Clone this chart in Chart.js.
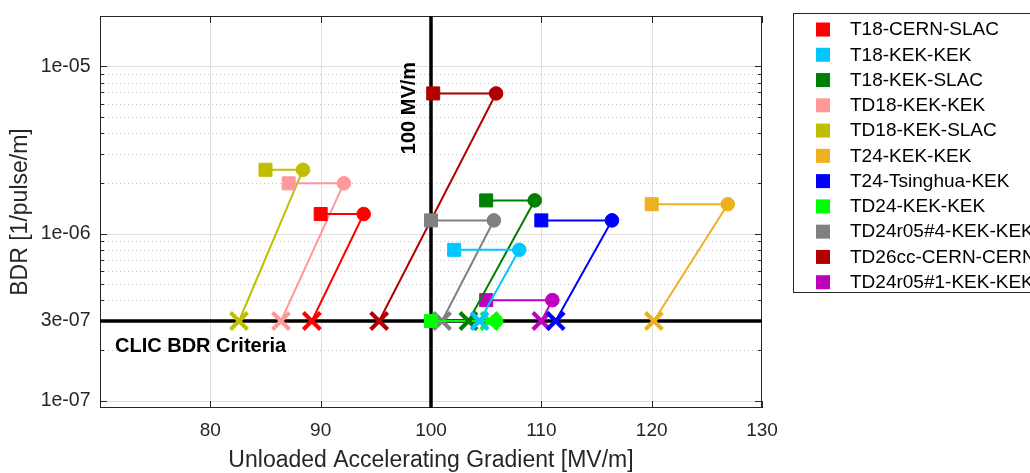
<!DOCTYPE html>
<html>
<head>
<meta charset="utf-8">
<script src="https://cdn.jsdelivr.net/npm/chart.js@4/dist/chart.umd.min.js"></script>
<style>
  html, body { margin: 0; padding: 0; background: #ffffff; }
  canvas { display: block; }
</style>
</head>
<body>
<canvas id="bdr" width="1030" height="473"></canvas>
<script>
// Accelerating structures tested
const structures = [
  'T18-CERN-SLAC', 'T18-KEK-KEK', 'T18-KEK-SLAC', 'TD18-KEK-KEK', 'TD18-KEK-SLAC',
  'T24-KEK-KEK', 'T24-Tsinghua-KEK', 'TD24-KEK-KEK', 'TD24r05#4-KEK-KEK',
  'TD26cc-CERN-CERN', 'TD24r05#1-KEK-KEK'
];
const seriesColors = [
  '#ff0000', '#00c8ff', '#008000', '#ff9999', '#bfbf00',
  '#edb120', '#0000ff', '#00ff00', '#808080', '#b00000', '#bf00bf'
];
// Measured gradient (square), gradient at the end of conditioning (circle), same BDR
const startGradient = [90.0, 102.1, 105.0, 87.1, 85.0, 120.0, 110.0, 100.0, 100.0, 100.2, 105.0];
const peakGradient  = [93.9, 108.0, 109.4, 92.1, 88.4, 126.9, 116.4, 105.9, 105.7, 105.9, 111.0];
const measuredBDR   = [1.31e-6, 8.0e-7, 1.58e-6, 2.0e-6, 2.41e-6, 1.5e-6, 1.2e-6, 3.0e-7, 1.2e-6, 6.9e-6, 4.0e-7];
// Gradient scaled to the CLIC breakdown rate target (cross)
const scaledGradient = [89.2, 104.4, 103.4, 86.4, 82.6, 120.2, 111.3, 105.3, 101.0, 95.3, 110.0];

const targetBDR = 3e-7;
const referenceGradient = 100;

const xTickValues = [80, 90, 100, 110, 120, 130];
const yTickValues = [1e-7, 3e-7, 1e-6, 1e-5];
const yTickLabels = ['1e-07', '3e-07', '1e-06', '1e-05'];

const FONT = '"Liberation Sans", Arial, Helvetica, sans-serif';
const AXIS_COLOR = '#262626';

Chart.defaults.font.family = FONT;
Chart.defaults.color = AXIS_COLOR;

const datasets = structures.map((name, i) => ({
  label: name,
  data: [
    { x: startGradient[i], y: measuredBDR[i] },
    { x: peakGradient[i], y: measuredBDR[i] },
    { x: scaledGradient[i], y: targetBDR }
  ],
  showLine: true,
  tension: 0,
  borderColor: seriesColors[i],
  backgroundColor: seriesColors[i],
  borderWidth: 2,
  pointStyle: ['rect', 'circle', 'crossRot'],
  pointRadius: [9.2, 6.8, 12],
  pointBorderWidth: [1, 1, 4],
  pointBackgroundColor: seriesColors[i],
  pointBorderColor: seriesColors[i]
}));

// Log-scale grid values (1..9 per decade)
function logGridValues(min, max) {
  const out = [];
  for (let d = Math.floor(Math.log10(min)); d <= Math.ceil(Math.log10(max)); d++) {
    for (let m = 1; m <= 9; m++) {
      const v = m * Math.pow(10, d);
      if (v >= min && v <= max) out.push({ v, major: m === 1 });
    }
  }
  return out;
}

const framePlugin = {
  id: 'frame',
  beforeDatasetsDraw(chart) {
    const { ctx, chartArea: a, scales: { x, y } } = chart;
    const gridY = logGridValues(y.min, y.max);
    ctx.save();
    ctx.lineWidth = 1;

    // vertical grid
    ctx.strokeStyle = '#dfdfdf';
    xTickValues.forEach(v => {
      if (v <= x.min || v >= x.max) return;
      const px = Math.round(x.getPixelForValue(v)) + 0.5;
      ctx.beginPath(); ctx.moveTo(px, a.top); ctx.lineTo(px, a.bottom); ctx.stroke();
    });

    // horizontal grid: solid at decades, dotted in between
    gridY.forEach(g => {
      const py = Math.round(y.getPixelForValue(g.v)) + 0.5;
      if (py <= a.top + 1 || py >= a.bottom - 1) return;
      ctx.beginPath();
      if (g.major) { ctx.setLineDash([]); ctx.strokeStyle = '#dfdfdf'; }
      else { ctx.setLineDash([1, 3]); ctx.strokeStyle = '#c4c4c4'; }
      ctx.moveTo(a.left, py); ctx.lineTo(a.right, py); ctx.stroke();
    });
    ctx.setLineDash([]);

    // axes box
    ctx.strokeStyle = AXIS_COLOR;
    ctx.strokeRect(a.left + 0.5, a.top + 0.5, a.right - a.left - 1, a.bottom - a.top - 1);

    // inward tick marks
    ctx.beginPath();
    xTickValues.forEach(v => {
      const px = Math.round(x.getPixelForValue(v)) + 0.5;
      ctx.moveTo(px, a.bottom); ctx.lineTo(px, a.bottom - 7);
      ctx.moveTo(px, a.top); ctx.lineTo(px, a.top + 7);
    });
    gridY.forEach(g => {
      const py = Math.round(y.getPixelForValue(g.v)) + 0.5;
      const len = g.major ? 7 : 4;
      ctx.moveTo(a.left, py); ctx.lineTo(a.left + len, py);
      ctx.moveTo(a.right, py); ctx.lineTo(a.right - len, py);
    });
    ctx.stroke();

    // CLIC target breakdown rate and 100 MV/m reference
    ctx.strokeStyle = '#000000';
    ctx.lineWidth = 3.5;
    const yt = y.getPixelForValue(targetBDR);
    const xr = x.getPixelForValue(referenceGradient);
    ctx.beginPath();
    ctx.moveTo(a.left, yt); ctx.lineTo(a.right, yt);
    ctx.moveTo(xr, a.top); ctx.lineTo(xr, a.bottom);
    ctx.stroke();
    ctx.restore();
  },
  afterDatasetsDraw(chart) {
    const { ctx, chartArea: a, scales: { x, y } } = chart;
    ctx.save();
    ctx.fillStyle = '#000000';
    ctx.font = 'bold 20px ' + FONT;
    ctx.textAlign = 'left';
    ctx.textBaseline = 'alphabetic';
    ctx.fillText('CLIC BDR Criteria', a.left + 15, y.getPixelForValue(targetBDR) + 31);

    ctx.translate(x.getPixelForValue(referenceGradient) - 16, a.top + 92);
    ctx.rotate(-Math.PI / 2);
    ctx.textAlign = 'center';
    ctx.fillText('100 MV/m', 0, 0);
    ctx.restore();
  },
  afterDraw(chart) {
    // legend box
    const { ctx, chartArea: a } = chart;
    const left = a.right + 31.5, top = 13.5, height = 279;
    ctx.save();
    ctx.fillStyle = '#ffffff';
    ctx.strokeStyle = AXIS_COLOR;
    ctx.lineWidth = 1;
    ctx.fillRect(left, top, 400, height);
    ctx.strokeRect(left, top, 400, height);
    ctx.font = '19px ' + FONT;
    ctx.textAlign = 'left';
    ctx.textBaseline = 'middle';
    chart.data.datasets.forEach((ds, i) => {
      const rowY = 29.5 + i * 25.27;
      ctx.fillStyle = ds.borderColor;
      ctx.fillRect(left + 22.5, rowY - 7, 14, 14);
      ctx.fillStyle = '#000000';
      ctx.fillText(ds.label, left + 56.5, rowY + 0.5);
    });
    ctx.restore();
  }
};

new Chart(document.getElementById('bdr'), {
  type: 'scatter',
  data: { datasets },
  options: {
    responsive: false,
    animation: false,
    devicePixelRatio: 1,
    events: [],
    layout: { padding: { top: 12, right: 268, left: 0, bottom: 0 } },
    plugins: { legend: { display: false }, tooltip: { enabled: false } },
    scales: {
      x: {
        type: 'linear',
        min: 70,
        max: 130,
        afterBuildTicks: s => { s.ticks = xTickValues.map(v => ({ value: v })); },
        afterFit: s => { s.height = 65; s.paddingLeft = 0; s.paddingRight = 0; },
        grid: { display: false, drawTicks: false },
        border: { display: false },
        ticks: { color: AXIS_COLOR, font: { size: 19 }, padding: 11.5, maxRotation: 0, autoSkip: false },
        title: {
          display: true,
          text: 'Unloaded Accelerating Gradient [MV/m]',
          color: AXIS_COLOR,
          font: { size: 23, lineHeight: 1.1 },
          padding: 0
        }
      },
      y: {
        type: 'logarithmic',
        min: 9.05e-8,
        max: 2.005e-5,
        afterBuildTicks: s => { s.ticks = yTickValues.map(v => ({ value: v })); },
        afterFit: s => { s.width = 100; s.paddingTop = 0; s.paddingBottom = 0; },
        grid: { display: false, drawTicks: false },
        border: { display: false },
        ticks: {
          color: AXIS_COLOR,
          font: { size: 19.5 },
          padding: 9.5,
          autoSkip: false,
          callback: (v, i) => yTickLabels[i]
        },
        title: {
          display: true,
          text: 'BDR [1/pulse/m]',
          color: AXIS_COLOR,
          font: { size: 23, lineHeight: 1.2 },
          padding: 7
        }
      }
    }
  },
  plugins: [framePlugin]
});
</script>
</body>
</html>
